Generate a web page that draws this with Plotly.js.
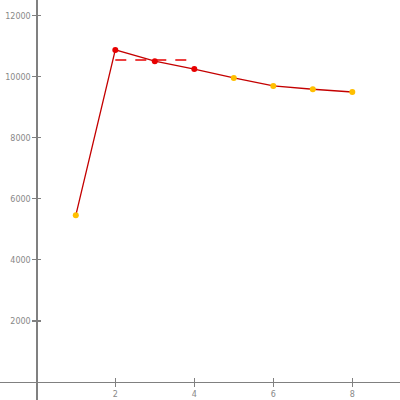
<!DOCTYPE html>
<html>
<head>
<meta charset="utf-8">
<script src="https://cdn.plot.ly/plotly-3.0.1.min.js"></script>
<style>
  html, body { margin: 0; padding: 0; background: #fff; }
  #chart { width: 400px; height: 400px; }
</style>
</head>
<body>
<div id="chart"></div>
<script>
// Series values
const xs = [1, 2, 3, 4, 5, 6, 7, 8];
const ys = [5460, 10880, 10510, 10250, 9960, 9700, 9590, 9500];
// Points 2..4 are highlighted; the dashed line marks their mean
const highlightX = [2, 3, 4];
const xTicks = [2, 4, 6, 8];
const yTicks = [2000, 4000, 6000, 8000, 10000, 12000];

const RED = '#e80000';
const GOLD = '#ffbf00';
const LINE = '#c40000';
const AXIS = '#808080';

const hiY = highlightX.map(x => ys[xs.indexOf(x)]);
const mean = hiY.reduce((a, b) => a + b, 0) / hiY.length;
const colors = xs.map(x => highlightX.includes(x) ? RED : GOLD);

const xRange = [-0.919, 9.208];
const yRange = [-590, 12514];
const xPos = (0 - yRange[0]) / (yRange[1] - yRange[0]);
const yPos = (0 - xRange[0]) / (xRange[1] - xRange[0]);

const traces = [
  {
    x: [highlightX[0], highlightX[highlightX.length - 1]],
    y: [mean, mean],
    mode: 'lines',
    line: { color: RED, width: 1.5, dash: '11px,9px' },
    hoverinfo: 'skip'
  },
  {
    x: xs, y: ys,
    mode: 'lines+markers',
    line: { color: LINE, width: 1.3 },
    marker: { color: colors, size: 6 }
  },
  { x: [], y: [], xaxis: 'x2', yaxis: 'y2', mode: 'markers' }
];

const tickFont = { family: 'DejaVu Sans', size: 8, color: '#888' };
const common = {
  showgrid: false, zeroline: false, showline: true,
  linecolor: AXIS, linewidth: 1.5,
  tickcolor: AXIS, tickwidth: 1.2, ticklen: 4,
  tickfont: tickFont, fixedrange: true
};

const layout = {
  width: 400, height: 400,
  margin: { l: 0, r: 0, t: 0, b: 0 },
  paper_bgcolor: '#fff', plot_bgcolor: '#fff',
  showlegend: false,
  xaxis: Object.assign({}, common, {
    range: xRange, tickvals: xTicks, ticktext: xTicks.map(String),
    ticks: 'outside', anchor: 'free', position: xPos
  }),
  yaxis: Object.assign({}, common, {
    range: yRange, tickvals: yTicks, ticktext: yTicks.map(String),
    ticks: 'outside', anchor: 'free', position: yPos
  }),
  // companion axes give the ticks their inner half
  xaxis2: Object.assign({}, common, {
    range: xRange, tickvals: xTicks, showticklabels: false, showline: false,
    ticks: 'inside', overlaying: 'x', anchor: 'free', position: xPos
  }),
  yaxis2: Object.assign({}, common, {
    range: yRange, tickvals: yTicks, showticklabels: false, showline: false,
    ticks: 'inside', overlaying: 'y', anchor: 'free', position: yPos
  })
};

Plotly.newPlot('chart', traces, layout, { displayModeBar: false, staticPlot: true });
</script>
</body>
</html>
